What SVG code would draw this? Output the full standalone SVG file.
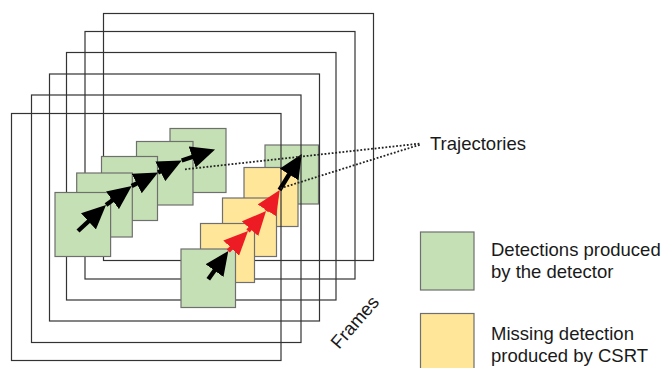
<svg xmlns="http://www.w3.org/2000/svg" width="664" height="368" viewBox="0 0 664 368">
  <defs>
    <style>
      .frame { fill: none; stroke: #333; stroke-width: 1.2; }
      .det { fill: #c5e0b4; stroke: #6f6f6f; stroke-width: 1.2; }
      .csrt { fill: #ffe699; stroke: #6f6f6f; stroke-width: 1.2; }
      .trk { fill: none; stroke-width: 4.4; stroke-linecap: butt; }
      .trk.black { stroke: #000; }
      .trk.red { stroke: #ed1c24; }
      .dot { fill: none; stroke: #222; stroke-width: 1.8; stroke-dasharray: 1.8 1.8; }
      .lbl { font-family: "Liberation Sans", Arial, sans-serif; font-size: 18.5px; fill: #1a1a1a; }
    </style>
    <marker id="headBlack" markerUnits="userSpaceOnUse" markerWidth="24" markerHeight="22" refX="17" refY="11" orient="auto">
      <path d="M0,0 L24,11 L0,22 z" fill="#000"/>
    </marker>
    <marker id="headRed" markerUnits="userSpaceOnUse" markerWidth="24" markerHeight="22" refX="17" refY="11" orient="auto">
      <path d="M0,0 L24,11 L0,22 z" fill="#ed1c24"/>
    </marker>
  </defs>

  <rect width="664" height="368" fill="#fff"/>

  <!-- stacked video frames, back to front; each frame carries its own boxes -->
  <g id="frame-1"><rect class="frame" x="103.5" y="13.5" width="270" height="247"/></g>
  <g id="frame-2">
    <rect class="frame" x="85" y="31.5" width="270" height="247.5"/>
  </g>
  <g id="det-left-5"><rect class="det" x="170" y="128.5" width="56" height="64"/></g>
  <g id="det-right-5"><rect class="det" x="265" y="145" width="53.5" height="59"/></g>

  <g id="frame-3"><rect class="frame" x="66.5" y="52.5" width="269.5" height="247.5"/></g>
  <g id="det-left-4"><rect class="det" x="136.5" y="141.5" width="56.5" height="63.5"/></g>
  <g id="csrt-3"><rect class="csrt" x="244" y="167.5" width="54" height="59"/></g>

  <g id="frame-4"><rect class="frame" x="49.5" y="74" width="270" height="247"/></g>
  <g id="det-left-3"><rect class="det" x="101.5" y="156.5" width="56" height="64"/></g>
  <g id="csrt-2"><rect class="csrt" x="222.5" y="198" width="54" height="58.5"/></g>

  <g id="frame-5"><rect class="frame" x="31.5" y="95" width="269.5" height="247.5"/></g>
  <g id="det-left-2"><rect class="det" x="76.7" y="173" width="55.6" height="64"/></g>
  <g id="csrt-1"><rect class="csrt" x="200.5" y="223.5" width="54" height="59"/></g>

  <g id="frame-6"><rect class="frame" x="11.5" y="113.5" width="269.5" height="247"/></g>
  <g id="det-left-1"><rect class="det" x="55" y="192.5" width="55.6" height="64"/></g>
  <g id="det-right-1"><rect class="det" x="181" y="249" width="54.5" height="58.5"/></g>

  <!-- trajectories and callout lines -->
  <g id="connectors">
    <line class="trk black" x1="78" y1="231" x2="100.9" y2="209.8" marker-end="url(#headBlack)"/>
    <line class="trk black" x1="106" y1="205" x2="126.1" y2="190.2" marker-end="url(#headBlack)"/>
    <line class="trk black" x1="131.7" y1="186" x2="151.8" y2="175.7" marker-end="url(#headBlack)"/>
    <line class="trk black" x1="158" y1="172.5" x2="175.5" y2="163.7" marker-end="url(#headBlack)"/>
    <line class="trk black" x1="181.7" y1="160.5" x2="208.4" y2="151.7" marker-end="url(#headBlack)"/>

    <line class="trk black" x1="208.3" y1="279.3" x2="224.3" y2="256.7" marker-end="url(#headBlack)"/>
    <line class="trk red" x1="228.3" y1="251" x2="243.1" y2="236" marker-end="url(#headRed)"/>
    <line class="trk red" x1="248" y1="231" x2="261.4" y2="216.1" marker-end="url(#headRed)"/>
    <line class="trk red" x1="266.5" y1="211" x2="276" y2="196" marker-end="url(#headRed)"/>
    <line class="trk black" x1="279.5" y1="190" x2="298.1" y2="160" marker-end="url(#headBlack)"/>

    <line class="dot" x1="185" y1="169.3" x2="420.5" y2="143.5"/>
    <line class="dot" x1="280.5" y1="188.3" x2="420.5" y2="144.5"/>
  </g>

  <g id="label-trajectories"><text class="lbl" x="430" y="150">Trajectories</text></g>
  <g id="label-frames"><text class="lbl" transform="translate(339,350) rotate(-49)">Frames</text></g>

  <!-- legend -->
  <g id="legend-detector">
    <rect class="det" x="420.5" y="232" width="53.5" height="58"/>
    <text class="lbl" x="491" y="255.5">Detections produced</text>
    <text class="lbl" x="491" y="277.5">by the detector</text>
  </g>
  <g id="legend-csrt">
    <rect class="csrt" x="420.5" y="313.5" width="53.5" height="58"/>
    <text class="lbl" x="491" y="340">Missing detection</text>
    <text class="lbl" x="491" y="362">produced by CSRT</text>
  </g>
</svg>
